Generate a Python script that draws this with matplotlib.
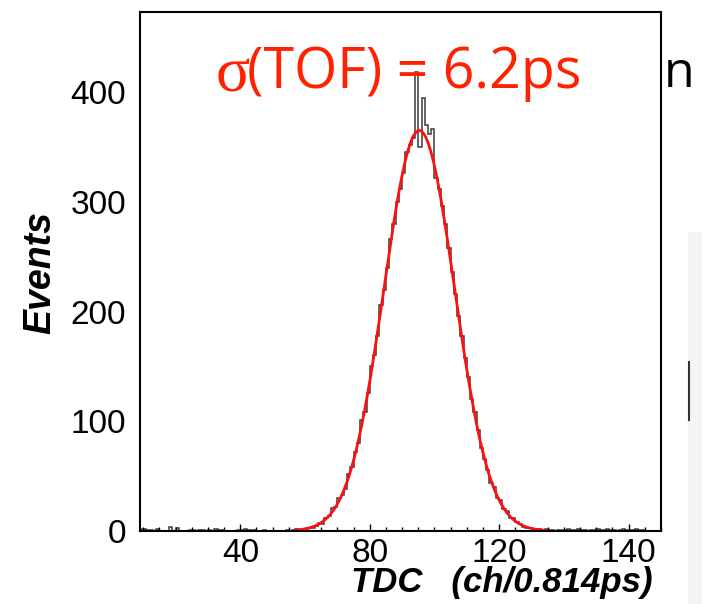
import matplotlib.pyplot as plt
import numpy as np

# TDC histogram, 1 channel bins starting at channel 9
first_bin = 9
counts = [2, 2, 1, 1, 0, 2, 0, 0, 0, 4,          # 9-18
          0, 3, 0, 0, 0, 1, 1, 0, 1, 1,          # 19-28
          0, 1, 0, 2, 1, 1, 0, 0, 0, 0,          # 29-38
          1, 1, 2, 1, 1, 1, 0, 0, 1, 0,          # 39-48
          0, 0, 0, 0, 0, 1, 0, 1, 2, 1,          # 49-58
          1, 2, 3, 3, 5, 7, 6, 12, 14, 21,       # 59-68
          22, 30, 33, 38, 52, 58, 72, 80, 101, 108,   # 69-78
          126, 150, 160, 178, 206, 220, 240, 266, 280, 300,  # 79-88
          312, 326, 345, 352, 358, 418, 350, 395, 370, 362,  # 89-98
          366, 322, 312, 296, 280, 258, 236, 216, 196, 178,  # 99-108
          158, 140, 120, 108, 92, 76, 66, 56, 44, 40,        # 109-118
          30, 28, 20, 18, 12, 12, 8, 6, 4, 3,                # 119-128
          3, 2, 1, 2, 1, 2, 1, 1, 0, 1,                      # 129-138
          1, 1, 2, 1, 1, 2, 1, 1, 0, 1,                      # 139-148
          1, 2, 1, 1, 2, 1, 1, 0, 1, 2,                      # 149-158
          1, 1, 1, 2, 1, 1, 0, 0, 0, 0, 0]                   # 159-169

# gaussian fit
fit_amp = 365.0
fit_mean = 95.3
fit_sigma = 10.9
fit_lo, fit_hi = 57, 134

xtick_pos = [40, 80, 120, 160]
xtick_lab = ["40", "80", "120", "140"]
ytick_pos = [0, 100, 200, 300, 400]

fig = plt.figure(figsize=(7.13, 6.04), dpi=100)
ax = fig.add_axes([140/713, 1-531/604, 521/713, 519/604])

edges = first_bin + np.arange(len(counts) + 1)
ax.stairs(counts, edges, color="#3a3a3a", lw=1.1)

xf = np.linspace(fit_lo, fit_hi, 400)
ax.plot(xf, fit_amp*np.exp(-(xf-fit_mean)**2/(2*fit_sigma**2)), color="#ff1010", lw=2)

ax.set_xlim(9, 170)
ax.set_ylim(0, 473)
ax.set_xticks(xtick_pos)
ax.set_xticklabels(xtick_lab)
ax.set_xticks(np.arange(10, 171, 5), minor=True)
ax.set_yticks(ytick_pos)
ax.tick_params(axis="x", which="major", direction="in", length=5, width=1, pad=5)
ax.tick_params(axis="x", which="minor", direction="in", length=3, width=1)
ax.tick_params(axis="y", length=0, pad=10)
for lab in ax.get_xticklabels() + ax.get_yticklabels():
    lab.set_fontfamily("Liberation Sans")
    lab.set_fontsize(24)
for s in ax.spines.values():
    s.set_linewidth(1.5)

fig.text(40/713, 1-272/604, "Events", rotation=90, ha="center", va="center",
         fontsize=27, fontweight="bold", fontstyle="italic", family="Liberation Sans")
fig.text(653/713, 1-592/604, "TDC   (ch/0.814ps)", ha="right", va="baseline",
         fontsize=25, fontweight="bold", fontstyle="italic", family="Liberation Sans")

# red annotation on top
fig.text(216/713, 1-77/604, "σ", ha="left", va="center", color="#ff2200",
         fontsize=46, family="Liberation Serif")
fig.text(247/713, 1-74/604, "(TOF) = 6.2ps", ha="left", va="center", color="#ff2200",
         fontsize=40, family="Open Sans")
fig.text(664/713, 1-74/604, "n", ha="left", va="center", color="black",
         fontsize=36, family="Open Sans")

# slide leftovers at the right edge
fig.patches.append(plt.Rectangle((688/713, 0), 14/713, 1-232/604, transform=fig.transFigure,
                                 color="#f4f5f4", lw=0))
fig.lines.append(plt.Line2D([689/713, 689/713], [1-362/604, 1-420/604], transform=fig.transFigure,
                            color="#333333", lw=1.5))

fig.savefig("out.png", dpi=100)
